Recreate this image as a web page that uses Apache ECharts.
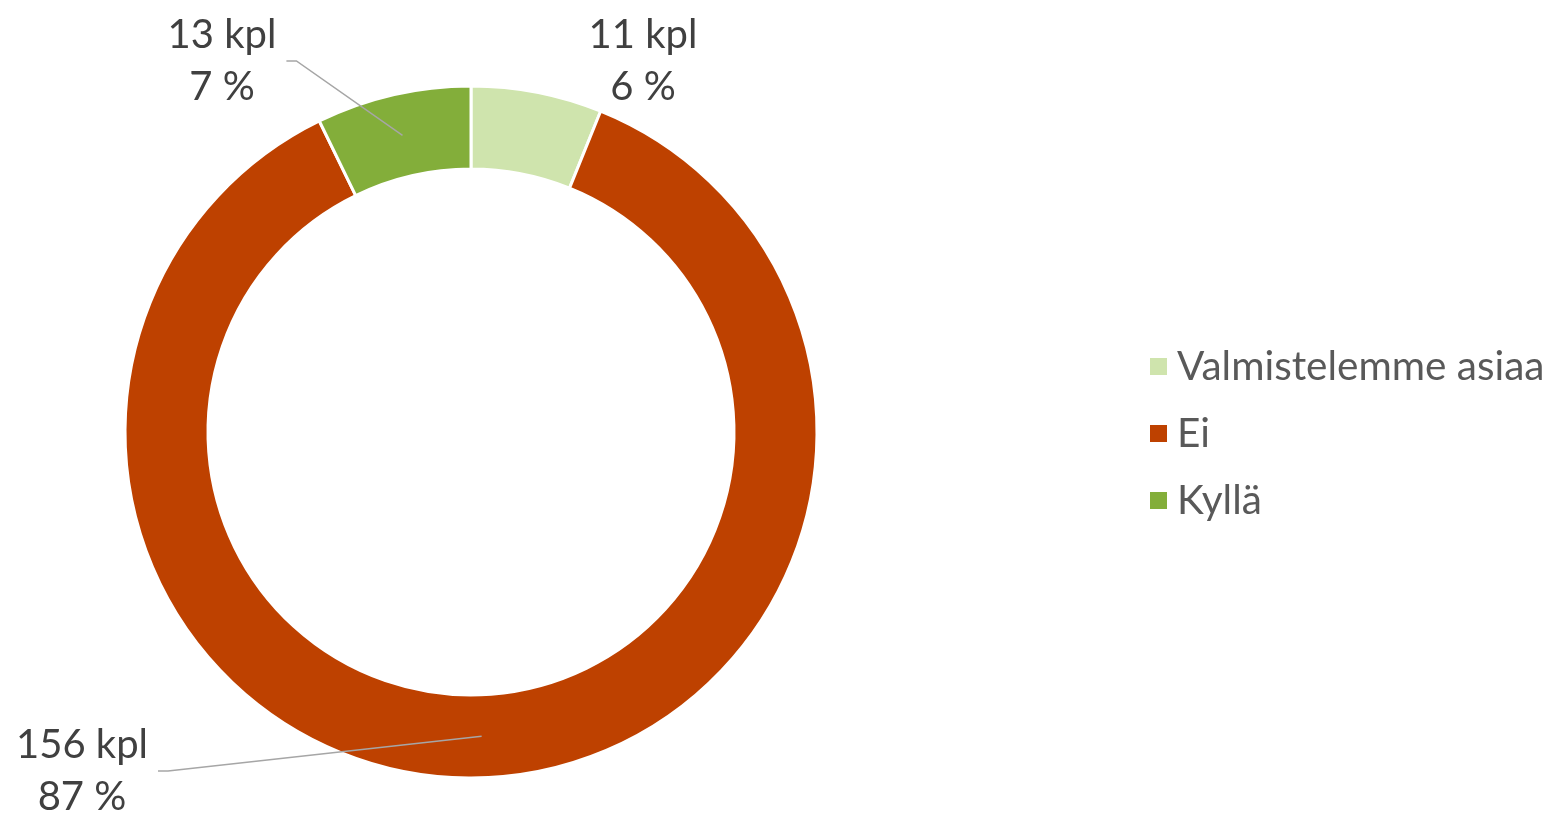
<!DOCTYPE html>
<html>
<head>
<meta charset="utf-8">
<script src="https://cdn.jsdelivr.net/npm/echarts@6/dist/echarts.min.js"></script>
<style>
  html, body { margin: 0; padding: 0; background: #fff; }
  #chart { width: 1550px; height: 818px; }
</style>
</head>
<body>
<div id="chart"></div>
<script>
// data
const categories = ['Valmistelemme asiaa', 'Ei', 'Kyllä'];
const counts = [11, 156, 13];
const colors = ['#cfe4ad', '#be4100', '#83ae3a'];

// label placement (centre of the two-line label), by slice
const labelPos = [[643, 61], [82, 771], [222, 61]];

const CX = 471, CY = 432;
const R_OUT = 346, R_IN = 263;
const R_MID = (R_OUT + R_IN) / 2;

const chart = echarts.init(document.getElementById('chart'));

const pieData = categories.map((name, i) => ({ name: name, value: counts[i] }));

const option = {
    animation: false,
    color: colors,
    textStyle: { fontFamily: 'Lato' },
    legend: {
        orient: 'vertical',
        left: 1143,
        top: 341,
        itemWidth: 19,
        itemHeight: 19,
        itemGap: 26,
        icon: 'rect',
        data: categories,
        textStyle: { fontSize: 40.5, lineHeight: 41, color: '#595959', fontFamily: 'Lato', padding: [0, 0, 0, 4] }
    },
    series: [
        {
            // the ring itself
            type: 'pie',
            center: [CX, CY],
            radius: [R_IN, R_OUT],
            startAngle: 90,
            clockwise: true,
            silent: true,
            itemStyle: { borderColor: '#fff', borderWidth: 3 },
            label: { show: false },
            labelLine: { show: false },
            data: pieData
        },
        {
            // same slices, invisible, only for labels and leader lines on top
            type: 'pie',
            center: [CX, CY],
            radius: [R_IN, R_OUT],
            startAngle: 90,
            clockwise: true,
            silent: true,
            percentPrecision: 0,
            avoidLabelOverlap: false,
            z: 5,
            itemStyle: { color: 'rgba(0,0,0,0)' },
            label: {
                show: true,
                position: 'outside',
                formatter: '{c} kpl\n{d} %',
                fontSize: 40,
                lineHeight: 52,
                color: '#404040',
                fontFamily: 'Lato',
                align: 'center'
            },
            labelLine: {
                show: true,
                lineStyle: { color: '#a6a6a6', width: 1.5 }
            },
            labelLayout: function (params) {
                const i = params.dataIndex;
                const p = labelPos[i];
                const out = { x: p[0], y: p[1], align: 'center', verticalAlign: 'middle' };
                const pts = params.labelLinePoints;
                if (pts && i !== 0) {
                    const dx = pts[0][0] - CX, dy = pts[0][1] - CY;
                    const len = Math.sqrt(dx * dx + dy * dy);
                    const start = [CX + dx / len * R_MID, CY + dy / len * R_MID];
                    const right = p[0] + params.labelRect.width / 2;
                    out.labelLinePoints = [start, [right + 20, p[1]], [right + 10, p[1]]];
                }
                return out;
            },
            data: categories.map((name, i) => ({
                name: name,
                value: counts[i],
                labelLine: { show: i !== 0 }
            }))
        }
    ]
};

chart.setOption(option);
</script>
</body>
</html>
